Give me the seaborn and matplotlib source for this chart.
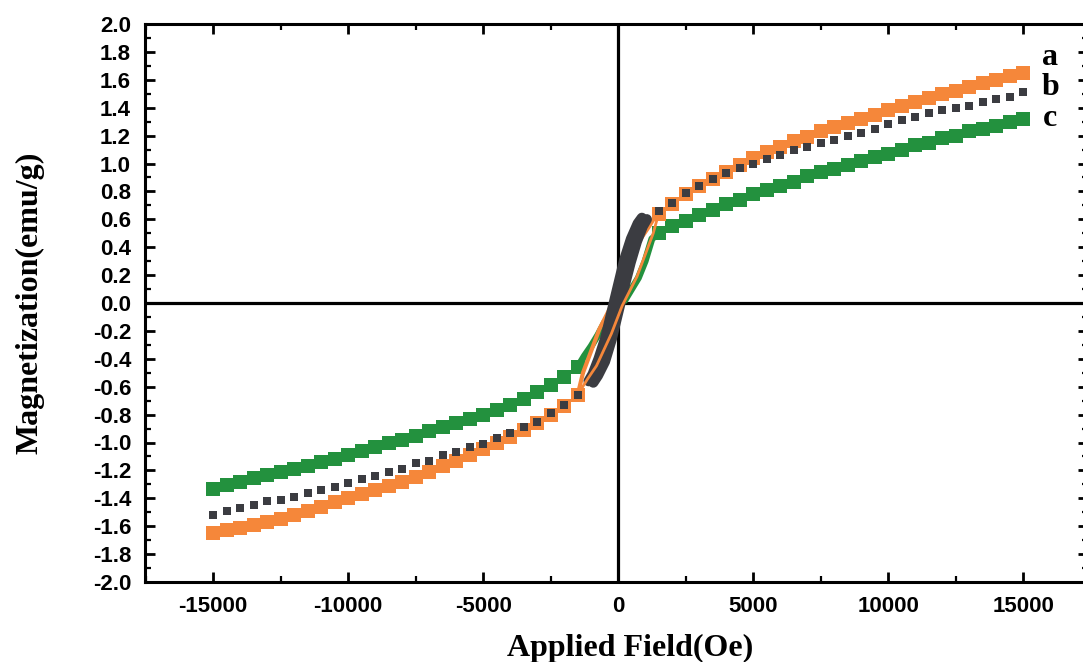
import matplotlib
matplotlib.use("Agg")
import matplotlib.pyplot as plt
import seaborn as sns
import pandas as pd
from matplotlib.ticker import MultipleLocator, FormatStrFormatter

# ---------------- data ----------------
field_neg = [-15000, -14500, -14000, -13500, -13000, -12500, -12000, -11500, -11000, -10500,
             -10000, -9500, -9000, -8500, -8000, -7500, -7000, -6500, -6000, -5500,
             -5000, -4500, -4000, -3500, -3000, -2500, -2000, -1500]
field_pos = [1500, 2000, 2500, 3000, 3500, 4000, 4500, 5000, 5500, 6000,
             6500, 7000, 7500, 8000, 8500, 9000, 9500, 10000, 10500, 11000,
             11500, 12000, 12500, 13000, 13500, 14000, 14500, 15000]

a_neg = [-1.65, -1.63, -1.61, -1.59, -1.57, -1.545, -1.52, -1.49, -1.46, -1.43,
         -1.40, -1.37, -1.34, -1.31, -1.28, -1.245, -1.21, -1.17, -1.13, -1.09,
         -1.05, -1.005, -0.96, -0.91, -0.86, -0.80, -0.74, -0.66]
a_pos = [0.64, 0.71, 0.78, 0.84, 0.89, 0.94, 0.99, 1.04, 1.08, 1.12,
         1.16, 1.19, 1.23, 1.26, 1.29, 1.32, 1.35, 1.38, 1.41, 1.44,
         1.47, 1.50, 1.52, 1.55, 1.58, 1.60, 1.63, 1.65]

b_neg = [-1.52, -1.49, -1.47, -1.45, -1.42, -1.41, -1.39, -1.36, -1.34, -1.32,
         -1.29, -1.26, -1.24, -1.21, -1.19, -1.15, -1.13, -1.09, -1.07, -1.03,
         -1.01, -0.97, -0.93, -0.89, -0.85, -0.79, -0.73, -0.66]
b_pos = [0.66, 0.72, 0.79, 0.84, 0.89, 0.93, 0.97, 1.00, 1.03, 1.06,
         1.10, 1.12, 1.15, 1.17, 1.20, 1.22, 1.25, 1.28, 1.31, 1.33,
         1.36, 1.38, 1.40, 1.41, 1.44, 1.46, 1.48, 1.51]

c_neg = [-1.33, -1.305, -1.28, -1.255, -1.23, -1.21, -1.19, -1.165, -1.14, -1.115,
         -1.09, -1.06, -1.03, -1.005, -0.98, -0.95, -0.92, -0.89, -0.86, -0.83,
         -0.80, -0.77, -0.73, -0.69, -0.64, -0.59, -0.53, -0.46]
c_pos = [0.50, 0.55, 0.59, 0.63, 0.67, 0.71, 0.74, 0.78, 0.81, 0.84,
         0.87, 0.91, 0.94, 0.96, 0.99, 1.02, 1.05, 1.07, 1.10, 1.13,
         1.15, 1.18, 1.20, 1.23, 1.25, 1.27, 1.30, 1.32]

# low-field parts of the loops
c_mid_H = [-1500, -1250, -1000, -750, -500, -250, 0, 250, 500, 750, 1000, 1250, 1500]
c_mid_M = [-0.46, -0.38, -0.31, -0.23, -0.14, -0.07, -0.02, 0.02, 0.10, 0.18, 0.30, 0.46, 0.50]

a_up_H = [-1500, -1150, -800, -250, 150, 700, 1300, 1500]
a_up_M = [-0.66, -0.55, -0.45, -0.22, -0.02, 0.19, 0.50, 0.64]
a_dn_H = [1500, 1150, 800, 250, -150, -700, -1300, -1500]
a_dn_M = [0.66, 0.55, 0.45, 0.22, 0.02, -0.19, -0.50, -0.66]

b_dn_H = [880, 730, 480, 230, 30, -120, -270, -470, -720, -940, -1090]
b_dn_M = [0.61, 0.57, 0.46, 0.31, 0.15, 0.03, -0.09, -0.25, -0.40, -0.51, -0.56]
b_up_H = [1060, 910, 690, 460, 260, 110, -40, -240, -490, -750, -920]
b_up_M = [0.60, 0.55, 0.44, 0.29, 0.14, 0.02, -0.10, -0.26, -0.42, -0.52, -0.57]

series_labels = ["a", "b", "c"]
label_M = [1.76, 1.545, 1.32]
label_H = 16000

x_label = "Applied Field(Oe)"
y_label = "Magnetization(emu/g)"

ORANGE = "#F5873A"
GREEN = "#23913E"
GRAY = "#3B3C41"

# ---------------- figure ----------------
sns.set_theme(style="white")
plt.rcParams["axes.unicode_minus"] = False
plt.rcParams["font.family"] = ["Liberation Sans", "DejaVu Sans"]

W, H = 1083, 662
fig = plt.figure(figsize=(W / 100, H / 100), dpi=100)
left, right, top, bottom = 145, 1088, 24, 582
ax = fig.add_axes([left / W, 1 - bottom / H, (right - left) / W, (bottom - top) / H])
ax.set_facecolor("white")

field_all = field_neg + field_pos

def outer_df(neg, pos):
    return pd.DataFrame({"H": field_all, "M": neg + pos})

ax.axhline(0, color="black", lw=2.3, zorder=1)
ax.axvline(0, color="black", lw=2.3, zorder=1)

# c (green)
sns.lineplot(x=c_mid_H, y=c_mid_M, ax=ax, color=GREEN, lw=5, sort=False,
             estimator=None, zorder=2)
sns.scatterplot(data=outer_df(c_neg, c_pos), x="H", y="M", ax=ax, marker="s",
                s=110, color=GREEN, linewidth=0, zorder=2)

# a (orange)
sns.lineplot(x=a_dn_H, y=a_dn_M, ax=ax, color=ORANGE, lw=3, sort=False,
             estimator=None, zorder=3)
sns.scatterplot(data=outer_df(a_neg, a_pos), x="H", y="M", ax=ax, marker="s",
                s=110, color=ORANGE, linewidth=0, zorder=3)

# b (gray) low-field loop
for hh, mm in ((b_dn_H, b_dn_M), (b_up_H, b_up_M)):
    sns.lineplot(x=hh, y=mm, ax=ax, color=GRAY, lw=7.5, sort=False,
                 estimator=None, zorder=4)
for l in ax.lines[-2:]:
    l.set_solid_capstyle("round")
    l.set_solid_joinstyle("round")

sns.lineplot(x=a_up_H, y=a_up_M, ax=ax, color=ORANGE, lw=2.0, sort=False,
             estimator=None, zorder=4.5)

sns.scatterplot(data=outer_df(b_neg, b_pos), x="H", y="M", ax=ax, marker="s",
                s=30, color=GRAY, linewidth=0, zorder=5)

# axes
ax.set_xlim(-17520, 17400)
ax.set_ylim(-2.0, 2.0)
ax.xaxis.set_major_locator(MultipleLocator(5000))
ax.xaxis.set_minor_locator(MultipleLocator(2500))
ax.yaxis.set_major_locator(MultipleLocator(0.2))
ax.yaxis.set_minor_locator(MultipleLocator(0.1))
ax.xaxis.set_major_formatter(FormatStrFormatter("%d"))
ax.yaxis.set_major_formatter(FormatStrFormatter("%.1f"))

for sp in ax.spines.values():
    sp.set_visible(True)
    sp.set_color("black")
    sp.set_linewidth(2.2)

ax.tick_params(which="both", direction="in", top=True, right=True,
               bottom=True, left=True, color="black")
ax.tick_params(which="major", length=7, width=2.0, labelsize=16, pad=10)
ax.tick_params(which="minor", length=4, width=1.6)
for lab in ax.get_xticklabels() + ax.get_yticklabels():
    lab.set_fontweight("bold")
    lab.set_family(["Liberation Sans", "DejaVu Sans"])
    lab.set_color("black")

ax.set_xlabel(x_label, fontsize=23, fontweight="bold",
              family=["Liberation Serif", "DejaVu Serif"], color="black")
ax.set_ylabel(y_label, fontsize=23, fontweight="bold",
              family=["Liberation Serif", "DejaVu Serif"], color="black")
ax.xaxis.set_label_coords((630 - left) / (right - left), -(648 - bottom) / (bottom - top))
ax.xaxis.label.set_va("center")
ax.yaxis.set_label_coords((30 - left) / (right - left), 0.5)
ax.yaxis.label.set_va("center")

for lab, m in zip(series_labels, label_M):
    ax.text(label_H, m, lab, fontsize=23, fontweight="bold", ha="center",
            va="center", family=["Liberation Serif", "DejaVu Serif"],
            color="black", zorder=6)

ax.grid(False)
fig.savefig("out.png", dpi=100, facecolor="white")
